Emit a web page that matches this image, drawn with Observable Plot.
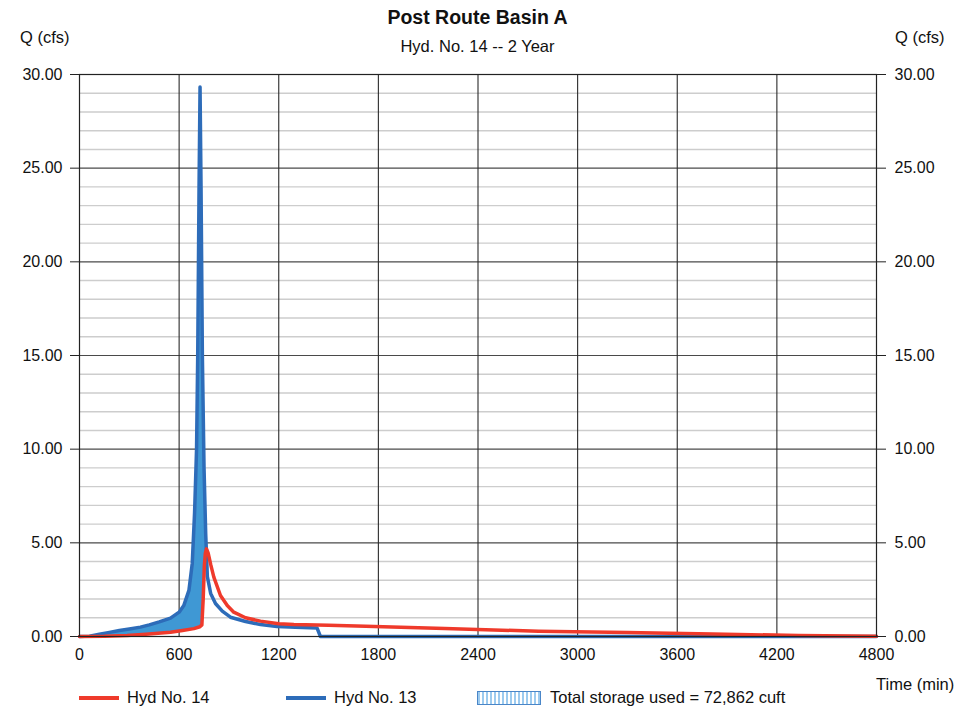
<!DOCTYPE html>
<html>
<head>
<meta charset="utf-8">
<script src="https://cdn.jsdelivr.net/npm/d3@7"></script>
<script src="https://cdn.jsdelivr.net/npm/@observablehq/plot@0.6"></script>
<style>
  body { margin: 0; background: #fff; font-family: "Liberation Sans", Arial, sans-serif; color: #111; }
  #wrap { position: relative; width: 972px; height: 711px; overflow: hidden; }
  #wrap svg { position: absolute; left: 0; top: 0; }
  .lbl { position: absolute; white-space: nowrap; line-height: 1; }
  .title { font-weight: bold; font-size: 19.5px; left: 0; width: 955px; text-align: center; top: 8px; }
  .sub { font-size: 16.5px; left: 0; width: 955px; text-align: center; top: 38px; }
  .ax { font-size: 16.5px; }
  .leg { position: absolute; top: 689px; left: 0; height: 18px; font-size: 16.5px; }
  .sw-line { position: absolute; height: 3.5px; top: 7px; }
  .sw-hatch { position: absolute; top: 2px; width: 62px; height: 12px; border: 1px solid #4a86c8;
    background: repeating-linear-gradient(90deg, #9dcbef 0 2px, #ffffff 2px 4px); }
  .leg span.t { position: absolute; top: 0px; white-space: nowrap; line-height: 1; }
</style>
</head>
<body>
<div id="wrap">
  <div class="lbl title">Post Route Basin A</div>
  <div class="lbl sub">Hyd. No. 14 -- 2 Year</div>
  <div class="lbl ax" style="left:20px; top:29px;">Q (cfs)</div>
  <div class="lbl ax" style="left:895px; top:29px;">Q (cfs)</div>
  <div class="lbl ax" style="left:876px; top:676px;">Time (min)</div>
  <div class="leg">
    <div class="sw-line" style="left:79px; width:40px; background:#ef3a2b;"></div>
    <span class="t" style="left:127px;">Hyd No. 14</span>
    <div class="sw-line" style="left:286px; width:40px; background:#2d6cb9;"></div>
    <span class="t" style="left:334px;">Hyd No. 13</span>
    <div class="sw-hatch" style="left:477px;"></div>
    <span class="t" style="left:550px;">Total storage used = 72,862 cuft</span>
  </div>
</div>
<script>
// Hyd No. 13 (inflow hydrograph): time (min) and discharge (cfs)
const time13 = [0, 60, 120, 180, 240, 300, 367, 420, 480, 548, 600, 628, 659, 679, 693, 705, 712, 720, 726,
  732, 740, 750, 760, 770, 790, 819, 860, 909, 1000, 1090, 1190, 1300, 1431, 1451, 4800];
const q13 = [0, 0.02, 0.12, 0.22, 0.32, 0.40, 0.50, 0.62, 0.78, 0.98, 1.30, 1.65, 2.46, 3.90, 6.60, 10.0, 15.0, 24.0, 29.33,
  24.0, 15.0, 9.0, 5.5, 3.2, 2.3, 1.76, 1.35, 1.03, 0.80, 0.64, 0.53, 0.49, 0.45, 0.0, 0.0];

// Hyd No. 14 (routed outflow hydrograph)
const time14 = [0, 150, 287, 400, 548, 620, 689, 725, 737, 745, 752, 758, 765, 775, 790, 809, 849, 890, 929, 1000, 1090,
  1200, 1291, 1500, 1723, 2200, 2765, 3300, 3811, 4331, 4800];
const q14 = [0, 0.01, 0.05, 0.12, 0.23, 0.32, 0.42, 0.52, 0.62, 2.0, 3.8, 4.45, 4.68, 4.45, 3.85, 3.17, 2.19, 1.65, 1.30, 1.00, 0.82,
  0.68, 0.64, 0.60, 0.55, 0.43, 0.28, 0.21, 0.14, 0.05, 0.01];

// Axis ticks
const xTicks = [0, 600, 1200, 1800, 2400, 3000, 3600, 4200, 4800];
const yTicks = [0, 5, 10, 15, 20, 25, 30];

const hyd13 = time13.map((t, i) => ({t, q: q13[i]}));
const hyd14 = time14.map((t, i) => ({t, q: q14[i]}));

// Linear lookup of a hydrograph at time t
function at(times, qs, t) {
  const i = d3.bisectLeft(times, t);
  if (i <= 0) return qs[0];
  if (i >= times.length) return qs[qs.length - 1];
  const t0 = times[i - 1], t1 = times[i];
  return qs[i - 1] + (qs[i] - qs[i - 1]) * (t - t0) / (t1 - t0);
}

// Storage band: where inflow exceeds outflow, between the two hydrographs
const bandTimes = Array.from(new Set([...time13, ...time14].filter(t => t <= 820))).sort((a, b) => a - b);
const storage = bandTimes.map(t => {
  const qin = at(time13, q13, t), qout = at(time14, q14, t);
  return {t, lo: qout, hi: Math.max(qin, qout)};
});

const minor = d3.range(1, 30).filter(v => v % 5 !== 0);

const chart = Plot.plot({
  width: 972,
  height: 711,
  marginLeft: 79,
  marginRight: 96,
  marginTop: 74,
  marginBottom: 75,
  x: {domain: [0, 4800]},
  y: {domain: [0, 30]},
  style: {fontFamily: "'Liberation Sans', Arial, sans-serif", fontSize: "16px", color: "#111", background: "transparent"},
  marks: [
    Plot.ruleY(minor, {stroke: "#cdcdcd", strokeWidth: 1.4}),
    Plot.ruleY([5, 10, 15, 20, 25], {stroke: "#4a4a4a", strokeWidth: 1.2}),
    Plot.ruleX(xTicks.slice(1, -1), {stroke: "#2a2a2a", strokeWidth: 1.1}),
    Plot.areaY(storage, {x: "t", y1: "lo", y2: "hi", fill: "#3f98d4", curve: "linear"}),
    Plot.line(hyd13, {x: "t", y: "q", stroke: "#2d6cb9", strokeWidth: 3.5, strokeLinejoin: "round"}),
    Plot.line(hyd14, {x: "t", y: "q", stroke: "#ef3a2b", strokeWidth: 3.5, strokeLinejoin: "round"}),
    Plot.frame({stroke: "#222", strokeWidth: 1.2}),
    Plot.axisY({anchor: "left", ticks: yTicks, tickFormat: d => d.toFixed(2), tickSize: 9, tickPadding: 8, label: null, stroke: "#222"}),
    Plot.axisY({anchor: "right", ticks: yTicks, tickFormat: d => d.toFixed(2), tickSize: 9, tickPadding: 9, label: null, stroke: "#222"}),
    Plot.axisX({ticks: xTicks, tickFormat: d => String(d), tickSize: 0, tickPadding: 12, label: null})
  ]
});
document.getElementById("wrap").prepend(chart);
</script>
</body>
</html>
